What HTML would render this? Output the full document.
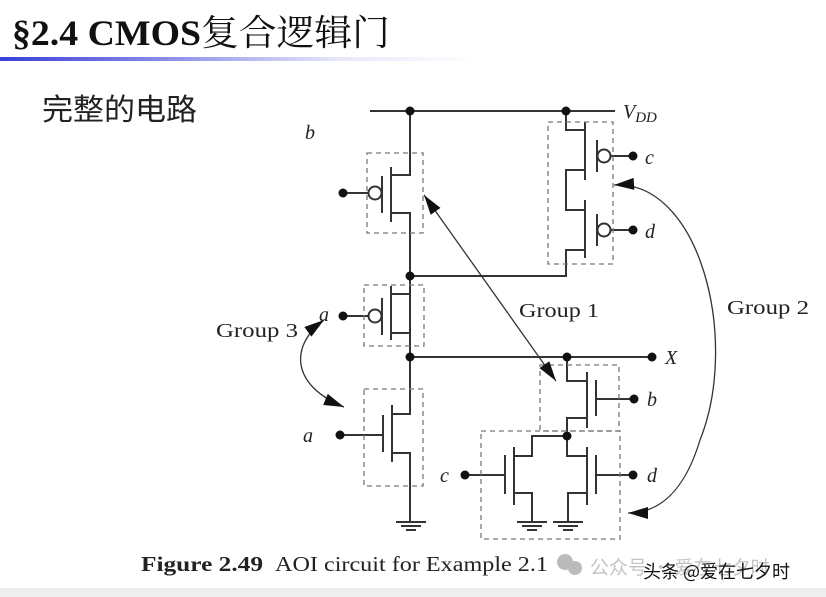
<!DOCTYPE html>
<html><head><meta charset="utf-8"><style>
body{margin:0;background:#fff;}
svg{display:block;}
</style></head><body>
<svg width="826" height="597" viewBox="0 0 826 597" xmlns="http://www.w3.org/2000/svg">
<defs>
<linearGradient id="g" x1="0" x2="1" y1="0" y2="0">
<stop offset="0" stop-color="#3a3fd8"/><stop offset="0.35" stop-color="#8a8ee8"/><stop offset="0.7" stop-color="#e6e6fa"/><stop offset="1" stop-color="#fff"/>
</linearGradient>
<marker id="ah2" viewBox="0 0 20 12" refX="20" refY="6" markerWidth="22" markerHeight="12" orient="auto-start-reverse" markerUnits="userSpaceOnUse">
<path d="M0,0 L20,6 L0,12 z" fill="#111"/></marker>
</defs>
<rect x="0" y="588" width="826" height="9" fill="#eeeeee"/>
<text x="12" y="45" font-family="'Liberation Serif','Noto Serif CJK SC',serif" font-size="36" font-weight="bold" fill="#111" textLength="378" lengthAdjust="spacingAndGlyphs">§2.4 CMOS<tspan font-weight="normal" font-family="'Noto Serif CJK SC',serif">复合逻辑门</tspan></text>
<rect x="0" y="57" width="480" height="4" fill="url(#g)"/>
<text x="42" y="120" font-family="'Noto Sans CJK SC',sans-serif" font-size="30" fill="#222" textLength="155" lengthAdjust="spacingAndGlyphs">完整的电路</text>

<g stroke="#333" stroke-width="2" fill="none">
<line x1="370" y1="111" x2="615" y2="111"/>
<polyline points="410,111 410,175 391,175"/>
<line x1="391" y1="167" x2="391" y2="222"/>
<polyline points="391,213 410,213 410,357"/>
<line x1="382" y1="176" x2="382" y2="213"/>
<line x1="343" y1="193" x2="368" y2="193"/>
<polyline points="566,111 566,130 585,130"/>
<line x1="585" y1="122" x2="585" y2="180"/>
<polyline points="585,170 566,170 566,210 585,210"/>
<line x1="585" y1="200" x2="585" y2="258"/>
<polyline points="585,250 566,250 566,276 410,276"/>
<line x1="597" y1="140" x2="597" y2="172"/>
<line x1="597" y1="214" x2="597" y2="246"/>
<line x1="610" y1="156" x2="633" y2="156"/>
<line x1="610" y1="230" x2="633" y2="230"/>
<polyline points="410,276 410,294 391,294"/>
<line x1="391" y1="286" x2="391" y2="340"/>
<polyline points="391,333 410,333"/>
<line x1="382" y1="298" x2="382" y2="335"/>
<line x1="343" y1="316" x2="368" y2="316"/>
<line x1="410" y1="357" x2="652" y2="357"/>
<polyline points="410,357 410,414 392,414"/>
<line x1="392" y1="405" x2="392" y2="462"/>
<polyline points="392,453 410,453 410,522"/>
<line x1="383" y1="415" x2="383" y2="452"/>
<line x1="340" y1="435" x2="383" y2="435"/>
<polyline points="567,357 567,381 587,381"/>
<line x1="587" y1="372" x2="587" y2="428"/>
<polyline points="587,418 567,418 567,456 587,456"/>
<line x1="596" y1="380" x2="596" y2="416"/>
<line x1="596" y1="399" x2="634" y2="399"/>
<polyline points="567,436 532,436 532,456 514,456"/>
<line x1="514" y1="447" x2="514" y2="505"/>
<polyline points="514,493 532,493 532,522"/>
<line x1="505" y1="455" x2="505" y2="494"/>
<line x1="465" y1="475" x2="505" y2="475"/>
<line x1="587" y1="447" x2="587" y2="505"/>
<polyline points="587,493 568,493 568,522"/>
<line x1="596" y1="455" x2="596" y2="494"/>
<line x1="596" y1="475" x2="633" y2="475"/>
<line x1="396" y1="522" x2="426" y2="522"/><line x1="401" y1="526" x2="421" y2="526"/><line x1="406" y1="530" x2="416" y2="530"/>
<line x1="517" y1="522" x2="547" y2="522"/><line x1="522" y1="526" x2="542" y2="526"/><line x1="527" y1="530" x2="537" y2="530"/>
<line x1="553" y1="522" x2="583" y2="522"/><line x1="558" y1="526" x2="578" y2="526"/><line x1="563" y1="530" x2="573" y2="530"/>
</g>
<g stroke="#333" stroke-width="2" fill="#fff">
<circle cx="375" cy="193" r="6.5"/>
<circle cx="375" cy="316" r="6.5"/>
<circle cx="604" cy="156" r="6.5"/>
<circle cx="604" cy="230" r="6.5"/>
</g>
<g fill="#111">
<circle cx="410" cy="111" r="4.5"/><circle cx="566" cy="111" r="4.5"/>
<circle cx="343" cy="193" r="4.5"/><circle cx="633" cy="156" r="4.5"/><circle cx="633" cy="230" r="4.5"/>
<circle cx="410" cy="276" r="4.5"/><circle cx="343" cy="316" r="4.5"/>
<circle cx="410" cy="357" r="4.5"/><circle cx="567" cy="357" r="4.5"/><circle cx="652" cy="357" r="4.5"/>
<circle cx="340" cy="435" r="4.5"/><circle cx="634" cy="399" r="4.5"/>
<circle cx="567" cy="436" r="4.5"/><circle cx="465" cy="475" r="4.5"/><circle cx="633" cy="475" r="4.5"/>
</g>
<g stroke="#777" stroke-width="1.3" fill="none" stroke-dasharray="5,4">
<rect x="367" y="153" width="56" height="80"/>
<rect x="548" y="122" width="65" height="142"/>
<rect x="364" y="285" width="60" height="61"/>
<rect x="364" y="389" width="59" height="97"/>
<rect x="540" y="365" width="79" height="66"/>
<rect x="481" y="431" width="139" height="108"/>
</g>
<g stroke="#333" stroke-width="1.3" fill="none">
<line x1="424" y1="195" x2="556" y2="381" marker-start="url(#ah2)" marker-end="url(#ah2)"/>
<path d="M614,185 C700,180 740,340 700,440 C685,490 660,513 628,513" marker-start="url(#ah2)" marker-end="url(#ah2)"/>
<path d="M324,320 C290,345 290,385 344,407" marker-start="url(#ah2)" marker-end="url(#ah2)"/>
</g>
<g font-family="'Liberation Serif',serif" font-size="20" fill="#222">
<text x="305" y="139" font-style="italic">b</text>
<text x="623" y="118" font-style="italic">V<tspan font-size="15" dy="4">DD</tspan></text>
<text x="645" y="164" font-style="italic">c</text>
<text x="645" y="238" font-style="italic">d</text>
<text x="319" y="321" font-style="italic">a</text>
<text x="303" y="442" font-style="italic">a</text>
<text x="665" y="364" font-style="italic">X</text>
<text x="647" y="406" font-style="italic">b</text>
<text x="440" y="482" font-style="italic">c</text>
<text x="647" y="482" font-style="italic">d</text>
<text x="519" y="317" textLength="80" lengthAdjust="spacingAndGlyphs">Group 1</text>
<text x="727" y="314" textLength="82" lengthAdjust="spacingAndGlyphs">Group 2</text>
<text x="216" y="337" textLength="82" lengthAdjust="spacingAndGlyphs">Group 3</text>
<text x="141" y="571" font-size="21" font-weight="bold" textLength="122" lengthAdjust="spacingAndGlyphs">Figure 2.49</text>
<text x="275" y="571" font-size="21" textLength="273" lengthAdjust="spacingAndGlyphs">AOI circuit for Example 2.1</text>
</g>
<g fill="#bbb"><circle cx="565" cy="562" r="8"/><circle cx="575" cy="568" r="7"/></g>
<text x="590" y="574" font-family="'Noto Sans CJK SC',sans-serif" font-size="19" fill="#c4c4c4">公众号 · 爱在七夕时</text>
<text x="643" y="578" font-family="'Noto Sans CJK SC',sans-serif" font-size="18" fill="#111">头条 @爱在七夕时</text>
</svg>
</body></html>
